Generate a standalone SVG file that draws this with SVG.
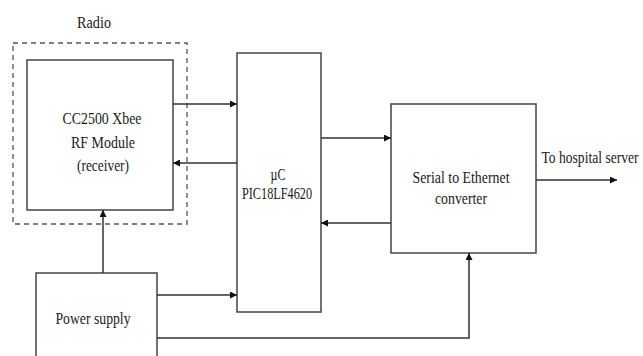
<svg xmlns="http://www.w3.org/2000/svg" width="643" height="356" viewBox="0 0 643 356">
<style>
.box{fill:#fff;stroke:#444;stroke-width:1.5}
.dash{fill:none;stroke:#555;stroke-width:1.3;stroke-dasharray:5,4}
.ln{fill:none;stroke:#333;stroke-width:1.5}
.t{font-family:"Liberation Serif","Times New Roman",serif;font-size:17px;fill:#1a1a1a;text-anchor:middle}
</style>
<defs>
<marker id="ah" viewBox="0 0 10 10" refX="10" refY="5" markerWidth="7" markerHeight="7" markerUnits="userSpaceOnUse" orient="auto">
<path d="M0,0 L10,5 L0,10 z" fill="#111"/>
</marker>
</defs>
<rect width="643" height="356" fill="#fff"/>
<g id="radio">
<rect class="dash" x="13" y="43" width="174" height="181"/>
<text class="t" x="94" y="28" textLength="34" lengthAdjust="spacingAndGlyphs">Radio</text>
</g>
<g id="cc2500">
<rect class="box" x="27" y="60" width="146" height="150"/>
<text class="t" x="102" y="124" textLength="79" lengthAdjust="spacingAndGlyphs">CC2500 Xbee</text>
<text class="t" x="103" y="148" textLength="64" lengthAdjust="spacingAndGlyphs">RF Module</text>
<text class="t" x="103" y="171" textLength="52" lengthAdjust="spacingAndGlyphs">(receiver)</text>
</g>
<g id="uc">
<rect class="box" x="237" y="53" width="84" height="259"/>
<text class="t" x="278" y="180" textLength="15" lengthAdjust="spacingAndGlyphs">µC</text>
<text class="t" x="277" y="199" textLength="70" lengthAdjust="spacingAndGlyphs">PIC18LF4620</text>
</g>
<g id="serial">
<rect class="box" x="391" y="104" width="145" height="149"/>
<text class="t" x="461" y="183" textLength="97" lengthAdjust="spacingAndGlyphs">Serial to Ethernet</text>
<text class="t" x="461" y="204" textLength="52" lengthAdjust="spacingAndGlyphs">converter</text>
</g>
<g id="power">
<rect class="box" x="36" y="273" width="121" height="90"/>
<text class="t" x="93" y="324" textLength="75" lengthAdjust="spacingAndGlyphs">Power supply</text>
</g>
<g id="output-label">
<text transform="translate(590,163) scale(1,1.2)" style="font-family:'Liberation Serif','Times New Roman',serif;font-size:13.6px;fill:#1a1a1a;text-anchor:middle" x="0" y="0">To hospital server</text>
</g>
<g id="connectors">
<line class="ln" x1="173" y1="104" x2="237" y2="104" marker-end="url(#ah)"/>
<line class="ln" x1="237" y1="163" x2="173" y2="163" marker-end="url(#ah)"/>
<line class="ln" x1="321" y1="138" x2="391" y2="138" marker-end="url(#ah)"/>
<line class="ln" x1="391" y1="223" x2="321" y2="223" marker-end="url(#ah)"/>
<line class="ln" x1="536" y1="180" x2="617" y2="180" marker-end="url(#ah)"/>
<line class="ln" x1="103" y1="273" x2="103" y2="210" marker-end="url(#ah)"/>
<line class="ln" x1="157" y1="295" x2="237" y2="295" marker-end="url(#ah)"/>
<polyline class="ln" points="157,338 469,338 469,253" marker-end="url(#ah)"/>
</g>
</svg>
